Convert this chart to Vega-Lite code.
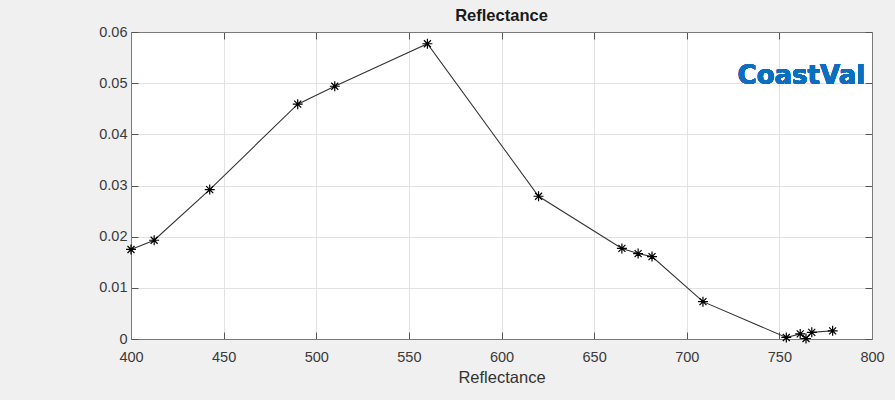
{
  "$schema": "https://vega.github.io/schema/vega-lite/v6.json",
  "width": 741,
  "height": 307,
  "autosize": {"type": "none"},
  "padding": {"left": 131, "top": 32, "right": 23, "bottom": 61},
  "background": "#f0f0f0",
  "config": {
    "view": {"fill": "white", "stroke": "#7a7a7a", "strokeWidth": 1},
    "font": "Liberation Sans",
    "axis": {
      "labelFont": "Liberation Sans",
      "labelFontSize": 14.5,
      "labelColor": "#3a3a3a",
      "titleFont": "Liberation Sans",
      "titleFontSize": 16.5,
      "titleFontWeight": "normal",
      "titleColor": "#333333",
      "tickColor": "#555555",
      "domainColor": "#7a7a7a",
      "gridColor": "#e2e2e2",
      "gridOpacity": 1
    }
  },
  "title": {
    "text": "Reflectance",
    "font": "Liberation Sans",
    "fontSize": 16.5,
    "fontWeight": "bold",
    "color": "#1a1a1a",
    "frame": "group",
    "anchor": "middle",
    "offset": 0
  },
  "data": {
    "values": [
      {"wavelength": 400, "reflectance": 0.0175},
      {"wavelength": 412.5, "reflectance": 0.0193},
      {"wavelength": 442.5, "reflectance": 0.0292},
      {"wavelength": 490, "reflectance": 0.0459},
      {"wavelength": 510, "reflectance": 0.0494},
      {"wavelength": 560, "reflectance": 0.0577},
      {"wavelength": 620, "reflectance": 0.0279},
      {"wavelength": 665, "reflectance": 0.0177},
      {"wavelength": 673.75, "reflectance": 0.0167},
      {"wavelength": 681.25, "reflectance": 0.0161},
      {"wavelength": 708.75, "reflectance": 0.0073},
      {"wavelength": 753.75, "reflectance": 0.0003},
      {"wavelength": 761.25, "reflectance": 0.001},
      {"wavelength": 764.375, "reflectance": 0.0001},
      {"wavelength": 767.5, "reflectance": 0.0013},
      {"wavelength": 778.75, "reflectance": 0.0016}
    ]
  },
  "layer": [
    {
      "mark": {"type": "line", "color": "#333333", "strokeWidth": 1.1},
      "encoding": {
        "x": {
          "field": "wavelength",
          "type": "quantitative",
          "scale": {"domain": [400, 800], "nice": false, "zero": false},
          "axis": {
            "orient": "bottom",
            "title": "Reflectance",
            "values": [400, 450, 500, 550, 600, 650, 700, 750, 800],
            "tickSize": -7,
            "labelPadding": 18,
            "titlePadding": 6,
            "grid": true,
            "labelFlush": false
          }
        },
        "y": {
          "field": "reflectance",
          "type": "quantitative",
          "scale": {"domain": [0, 0.06], "nice": false},
          "axis": {
            "orient": "left",
            "title": null,
            "values": [0, 0.01, 0.02, 0.03, 0.04, 0.05, 0.06],
            "format": "~g",
            "tickSize": -7,
            "labelPadding": 11,
            "grid": true,
            "labelFlush": false
          }
        }
      }
    },
    {
      "mark": {
        "type": "point",
        "shape": "M-1,0L1,0M0,-1L0,1M-0.7,-0.7L0.7,0.7M-0.7,0.7L0.7,-0.7",
        "filled": false,
        "stroke": "black",
        "strokeWidth": 1.2,
        "size": 100,
        "opacity": 1
      },
      "encoding": {
        "x": {
          "field": "wavelength",
          "type": "quantitative",
          "axis": {
            "orient": "top",
            "title": null,
            "labels": false,
            "grid": false,
            "values": [400, 450, 500, 550, 600, 650, 700, 750, 800],
            "tickSize": -7
          }
        },
        "y": {
          "field": "reflectance",
          "type": "quantitative",
          "axis": {
            "orient": "right",
            "title": null,
            "labels": false,
            "grid": false,
            "values": [0, 0.01, 0.02, 0.03, 0.04, 0.05, 0.06],
            "tickSize": -7
          }
        }
      }
    },
    {
      "mark": {
        "type": "text",
        "text": "CoastVal",
        "align": "right",
        "baseline": "alphabetic",
        "font": "DejaVu Sans",
        "fontWeight": "bold",
        "fontSize": 26,
        "color": "#0a6fbe"
      },
      "encoding": {
        "x": {"datum": 796.3, "type": "quantitative", "axis": null},
        "y": {"datum": 0.0498, "type": "quantitative", "axis": null}
      }
    }
  ],
  "resolve": {"axis": {"x": "independent", "y": "independent"}}
}
